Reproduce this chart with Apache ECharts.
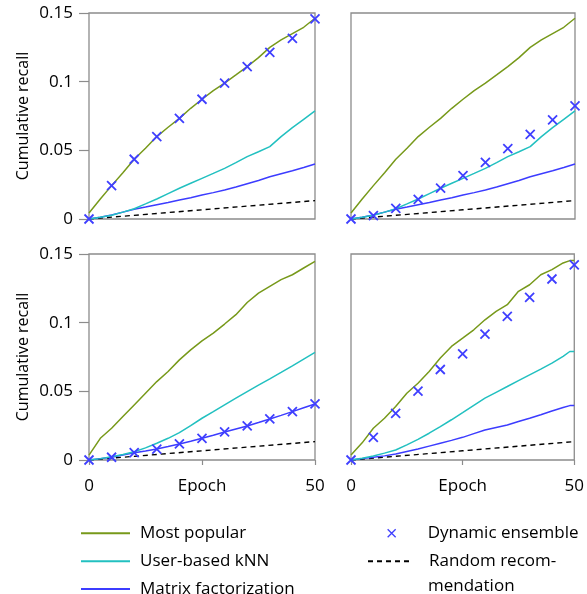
<!DOCTYPE html>
<html>
<head>
<meta charset="utf-8">
<script src="https://cdn.jsdelivr.net/npm/echarts@6/dist/echarts.min.js"></script>
<style>
html,body{margin:0;padding:0;background:#fff;}
#chart{width:587px;height:594px;}
</style>
</head>
<body>
<div id="chart"></div>
<script>
// ---- data ----
const epochs = [0,2.5,5,7.5,10,12.5,15,17.5,20,22.5,25,27.5,30,32.5,35,37.5,40,42.5,45,47.5,50];
const epochsBR = [0,2.5,5,7.5,10,12.5,15,17.5,20,22.5,25,27.5,30,32.5,35,37.5,40,42.5,45,47.5,49,50];
const markerEpochs = [0,5,10,15,20,25,30,35,40,45,50];
const randomEpochs = [0,25,50];
const randomRec = [0,0.0067,0.0134];

// top panels (shared baselines)
const popTop = [0.0044,0.0146,0.0243,0.0337,0.0435,0.0515,0.060,0.0668,0.0733,0.0806,0.0872,0.0935,0.099,0.1049,0.111,0.1175,0.125,0.1304,0.135,0.1396,0.1462];
const knnTop = [0,0.0012,0.0027,0.005,0.0075,0.011,0.0146,0.0185,0.0224,0.026,0.0296,0.0332,0.0369,0.041,0.0454,0.049,0.0527,0.060,0.0665,0.0726,0.0787];
const mfTop = [0,0.0013,0.0029,0.005,0.0071,0.0087,0.0104,0.012,0.0138,0.0155,0.0175,0.0192,0.0211,0.0233,0.0257,0.028,0.0308,0.033,0.0352,0.0375,0.040];
// bottom-left
const popBL = [0.0036,0.0158,0.0231,0.0316,0.0401,0.0486,0.0571,0.0644,0.0729,0.0802,0.0868,0.0924,0.099,0.1058,0.1147,0.1215,0.1264,0.1313,0.1349,0.1398,0.1446];
const knnBL = [0,0.001,0.0024,0.004,0.006,0.0088,0.0122,0.0158,0.0199,0.025,0.0304,0.0352,0.0401,0.045,0.0498,0.0545,0.0591,0.0638,0.0686,0.0735,0.0783];
const mfBL = [0,0.001,0.002,0.0036,0.0053,0.0066,0.008,0.0098,0.0117,0.0137,0.0158,0.018,0.0204,0.0226,0.0248,0.0273,0.0299,0.0325,0.0352,0.038,0.0408];
// bottom-right
const popBR = [0.0036,0.0125,0.0231,0.0304,0.0389,0.0486,0.0559,0.0644,0.0742,0.0827,0.0887,0.0948,0.1021,0.1082,0.1131,0.1228,0.1276,0.1349,0.1386,0.1435,0.1452,0.1452];
const knnBR = [0,0.0012,0.0029,0.005,0.0073,0.011,0.015,0.0195,0.0243,0.0293,0.0345,0.0398,0.045,0.0493,0.0535,0.0578,0.062,0.0662,0.0705,0.0755,0.079,0.079];
const mfBR = [0,0.001,0.002,0.003,0.0044,0.0062,0.008,0.0101,0.0122,0.0143,0.0165,0.0192,0.0219,0.0237,0.0255,0.028,0.0304,0.033,0.0357,0.0382,0.0396,0.0396];
// dynamic ensemble markers
const ensTL = [0,0.0243,0.0435,0.060,0.0733,0.0872,0.099,0.111,0.1214,0.1316,0.1457];
const ensTR = [0,0.0024,0.0078,0.0143,0.0224,0.0316,0.0413,0.0512,0.0617,0.0721,0.0823];
const ensBL = [0,0.002,0.0053,0.008,0.0117,0.0158,0.0204,0.0248,0.0299,0.0352,0.0408];
const ensBR = [0,0.0165,0.034,0.0501,0.0659,0.0773,0.0916,0.1045,0.1184,0.1318,0.142];

const xTicks = [0,25,50];
const yTicks = [0,0.05,0.1,0.15];

// ---- build ----
const FONT = '"Open Sans", sans-serif';
const C_POP = '#77991a', C_KNN = '#22c0c0', C_MF = '#3c3cff', C_ENS = '#3f3fff', C_FRAME = '#8c8c8c';
const zip = (xs, ys) => xs.map((x, i) => [x, ys[i]]);

const panels = [
  {ex: epochs, pop: popTop, knn: knnTop, mf: mfTop, ens: ensTL},
  {ex: epochs, pop: popTop, knn: knnTop, mf: mfTop, ens: ensTR},
  {ex: epochs, pop: popBL, knn: knnBL, mf: mfBL, ens: ensBL},
  {ex: epochsBR, pop: popBR, knn: knnBR, mf: mfBR, ens: ensBR}
];
const gridPos = [
  {left: 89, top: 13, width: 226, height: 206},
  {left: 351, top: 13, width: 224, height: 206},
  {left: 89, top: 254, width: 226, height: 206},
  {left: 351, top: 254, width: 224, height: 206}
];

const grid = gridPos.map(g => Object.assign({show: true, borderColor: C_FRAME, borderWidth: 1.3, backgroundColor: 'transparent'}, g));
const xAxis = gridPos.map((g, i) => ({
  type: 'value', gridIndex: i, min: xTicks[0], max: xTicks[xTicks.length - 1], interval: xTicks[1] - xTicks[0],
  splitLine: {show: false}, axisLine: {show: false},
  axisTick: {show: i >= 2, length: 5, lineStyle: {color: C_FRAME, width: 1.2}},
  axisLabel: {show: i >= 2, margin: 18, color: '#000', fontFamily: FONT, fontSize: 17,
    formatter: v => (v === xTicks[0] || v === xTicks[xTicks.length - 1]) ? String(v) : ''},
  name: i >= 2 ? 'Epoch' : '', nameLocation: 'middle', nameGap: 18, nameMoveOverlap: false,
  nameTextStyle: {color: '#000', fontFamily: FONT, fontSize: 17}
}));
const yAxis = gridPos.map((g, i) => ({
  type: 'value', gridIndex: i, min: yTicks[0], max: yTicks[yTicks.length - 1], interval: yTicks[1] - yTicks[0],
  splitLine: {show: false}, axisLine: {show: false},
  axisTick: {show: i % 2 === 0, length: 10, lineStyle: {color: C_FRAME, width: 1.2}},
  axisLabel: {show: i % 2 === 0, margin: 16, color: '#000', fontFamily: FONT, fontSize: 17,
    formatter: v => String(Math.round(v * 100) / 100)},
  name: i % 2 === 0 ? 'Cumulative recall' : '', nameLocation: 'middle', nameGap: 58, nameMoveOverlap: false,
  nameTextStyle: {color: '#000', fontFamily: FONT, fontSize: 16}
}));

const series = [];
panels.forEach((p, i) => {
  const base = {type: 'line', xAxisIndex: i, yAxisIndex: i, symbol: 'none', clip: false, animation: false};
  series.push(Object.assign({}, base, {name: 'Random recommendation', data: zip(randomEpochs, randomRec),
    lineStyle: {color: '#000', width: 1.4, type: [5, 4]}, itemStyle: {color: '#000'}}));
  series.push(Object.assign({}, base, {name: 'Matrix factorization', data: zip(p.ex, p.mf),
    lineStyle: {color: C_MF, width: 1.5}, itemStyle: {color: C_MF}}));
  series.push(Object.assign({}, base, {name: 'User-based kNN', data: zip(p.ex, p.knn),
    lineStyle: {color: C_KNN, width: 1.5}, itemStyle: {color: C_KNN}}));
  series.push(Object.assign({}, base, {name: 'Most popular', data: zip(p.ex, p.pop),
    lineStyle: {color: C_POP, width: 1.5}, itemStyle: {color: C_POP}}));
  series.push({type: 'scatter', name: 'Dynamic ensemble', xAxisIndex: i, yAxisIndex: i, z: 5, animation: false,
    symbol: 'path://M0,0L10,10M10,0L0,10', symbolSize: 9, clip: false,
    itemStyle: {color: 'rgba(0,0,0,0)', borderColor: C_ENS, borderWidth: 1.8, opacity: 1},
    data: zip(markerEpochs, p.ens)});
});

const legText = {fontFamily: FONT, fontSize: 17, color: '#000'};
const lineLegend = (name, left, top, width, padLeft, label) => ({
  data: [name], orient: 'horizontal', left, top, itemWidth: width, itemHeight: 20, padding: 0, selectedMode: false,
  itemStyle: {color: 'rgba(0,0,0,0)', borderWidth: 0, opacity: 0},
  formatter: label ? () => label : undefined,
  textStyle: Object.assign({lineHeight: 20, padding: [0, 0, 0, padLeft]}, legText)
});
const legend = [
  lineLegend('Most popular', 80, 523.3, 49, 5),
  lineLegend('User-based kNN', 80, 551.2, 49, 5),
  lineLegend('Matrix factorization', 80, 579, 49, 5),
  lineLegend('Random recommendation', 367, 551.2, 45, 11, 'Random recom-'),
  {data: ['Dynamic ensemble'], orient: 'horizontal', left: 387, top: 523.3,
    itemWidth: 46, itemHeight: 8, padding: 0, selectedMode: false,
    itemStyle: {borderWidth: 1.3},
    textStyle: Object.assign({lineHeight: 20, padding: [0, 0, 0, 8]}, legText)}
];

const graphic = [
  {type: 'text', left: 428, top: 578, style: {text: 'mendation', font: '17px "Open Sans", sans-serif', fill: '#000'}}
];

const chart = echarts.init(document.getElementById('chart'), null, {renderer: 'canvas'});
chart.setOption({animation: false, backgroundColor: '#fff', grid, xAxis, yAxis, series, legend, graphic});
</script>
</body>
</html>
